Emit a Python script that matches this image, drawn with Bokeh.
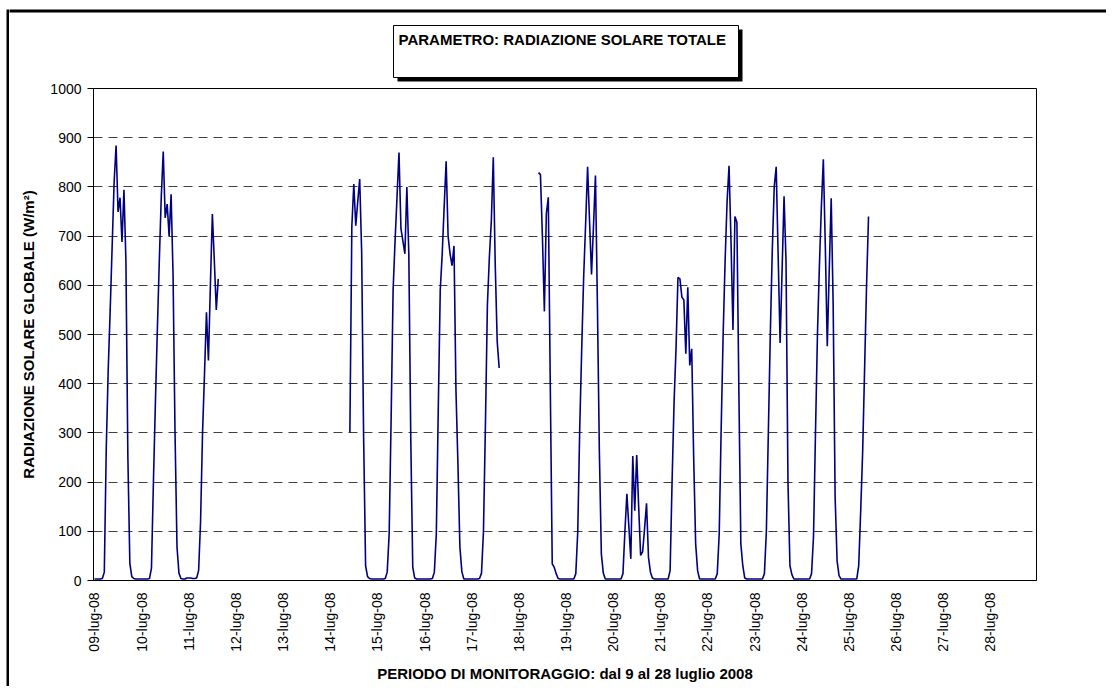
import math
import numpy as np
from bokeh.plotting import figure
from bokeh.layouts import column, row
from bokeh.models import Range1d, FixedTicker, SingleIntervalTicker, Spacer
from bokeh.core.properties import value
from bokeh.embed import file_html
from bokeh.resources import INLINE

# ---------------- data (hourly global solar radiation, W/m2) ----------------
dates = ["09-lug-08", "10-lug-08", "11-lug-08", "12-lug-08", "13-lug-08",
         "14-lug-08", "15-lug-08", "16-lug-08", "17-lug-08", "18-lug-08",
         "19-lug-08", "20-lug-08", "21-lug-08", "22-lug-08", "23-lug-08",
         "24-lug-08", "25-lug-08", "26-lug-08", "27-lug-08", "28-lug-08"]

day_09 = [3, 3, 3, 3, 4, 17, 270, 430, 550, 680, 810, 884,
          749, 778, 688, 794, 650, 250, 35, 8, 4, 3, 3, 3]
day_10 = [3, 3, 3, 3, 4, 25, 200, 360, 510, 650, 780, 872,
          737, 765, 700, 785, 620, 300, 68, 15, 4, 3, 3, 5]
day_11 = [5, 5, 4, 4, 5, 20, 120, 300, 420, 545, 447, 600,
          745, 650, 550, 613, None, None, None, None, None, None, None, None]
day_14 = [None, None, None, None, None, None, None, None, None, None, 301, 720,
          806, 721, 770, 816, 667, 290, 30, 8, 4, 3, 3, 3]
day_15 = [3, 3, 3, 3, 4, 17, 95, 330, 590, 690, 780, 870,
          715, 690, 664, 800, 664, 288, 27, 5, 3, 3, 3, 3]
day_16 = [3, 3, 3, 3, 4, 17, 95, 350, 590, 664, 760, 852,
          700, 664, 640, 680, 386, 237, 68, 18, 3, 3, 3, 3]
day_17 = [3, 3, 3, 3, 4, 15, 100, 318, 560, 657, 731, 860,
          640, 485, 432, None, None, None, None, None, None, None, None, None]
day_18 = [None, None, None, None, None, None, None, None, None, None, 829, 825,
          700, 547, 745, 779, 400, 34, 27, 14, 4, 3, 3, 3]
day_19 = [3, 3, 3, 3, 3, 14, 100, 310, 470, 617, 725, 841,
          730, 622, 720, 823, 560, 260, 54, 15, 3, 3, 3, 3]
day_20 = [3, 3, 3, 3, 3, 14, 100, 176, 110, 44, 253, 142,
          255, 150, 51, 58, 105, 157, 47, 17, 5, 3, 3, 3]
day_21 = [3, 3, 3, 3, 3, 20, 200, 360, 470, 616, 613, 576,
          570, 461, 596, 437, 471, 250, 75, 20, 3, 3, 3, 3]
day_22 = [3, 3, 3, 3, 3, 14, 95, 310, 500, 650, 770, 843,
          690, 509, 740, 728, 386, 75, 30, 5, 3, 3, 3, 3]
day_23 = [3, 3, 3, 3, 3, 14, 100, 300, 500, 670, 800, 841,
          660, 483, 630, 781, 650, 200, 30, 12, 3, 3, 3, 3]
day_24 = [3, 3, 3, 3, 3, 14, 90, 300, 500, 640, 760, 856,
          680, 476, 630, 777, 560, 170, 40, 10, 3, 3, 3, 3]
day_25 = [3, 3, 3, 3, 3, 30, 140, 260, 430, 600, 740, None,
          None, None, None, None, None, None, None, None, None, None, None, None]

days = [day_09, day_10, day_11, None, None, day_14, day_15, day_16, day_17,
        day_18, day_19, day_20, day_21, day_22, day_23, day_24, day_25,
        None, None, None]

title_text = "PARAMETRO: RADIAZIONE SOLARE TOTALE"
x_title = "PERIODO DI MONITORAGGIO: dal 9 al 28 luglio 2008"
y_title = "RADIAZIONE SOLARE GLOBALE (W/m²)"

hours = []
vals = []
for d, arr in enumerate(days):
    for k in range(24):
        hours.append(24 * d + k)
        v = None if arr is None else arr[k]
        vals.append(np.nan if v is None else float(v))

# ---------------- layout geometry (page pixels) ----------------
FONT = "Liberation Sans"
W, H = 1106, 686
BL, BW = 6, 3      # outer border: left offset and thickness
BT = 9             # outer border: top offset
TH = 82            # bottom of the title strip (page y)
X_IN = BL + BW     # left edge of inner content


def bare(fig, fill="white"):
    fig.outline_line_color = None
    fig.grid.visible = False
    fig.background_fill_color = fill
    fig.border_fill_color = fill
    fig.frame_align = False
    return fig


left_bar = bare(figure(width=BW, height=H - BT, output_backend="svg",
                       toolbar_location=None, x_axis_type=None, y_axis_type=None,
                       min_border=0, min_border_left=0, min_border_right=0,
                       min_border_top=0, min_border_bottom=0), fill="black")

# ---------------- title strip (page-pixel coordinates) ----------------
t = bare(figure(width=W - X_IN, height=TH - BT, output_backend="svg",
                toolbar_location=None,
                x_range=Range1d(X_IN, W), y_range=Range1d(TH, BT),
                x_axis_type=None, y_axis_type=None,
                min_border=0, min_border_left=0, min_border_right=0,
                min_border_top=0, min_border_bottom=0))
# top edge of the outer chart border
t.quad(left=[X_IN - 1], right=[W + 1], top=[BT - 1], bottom=[BT + BW],
       fill_color="black", line_color=None)
# title box with its shadow
t.quad(left=[397], right=[742], top=[29], bottom=[81],
       fill_color="black", line_color=None)
t.quad(left=[393], right=[738], top=[25], bottom=[77],
       fill_color="white", line_color="black", line_width=1)
t.text(x=[398], y=[30], text=[title_text], text_font=value(FONT),
       text_font_style="bold", text_font_size="15px", text_color="black",
       text_align="left", text_baseline="top")

# ---------------- main chart ----------------
ML, MR, MT, MB = 93 - X_IN, 70, 88 - TH, 106   # frame: x 93..1036, y 88..580
NH = 24 * len(dates)

p = figure(width=W - X_IN, height=H - TH, output_backend="svg", toolbar_location=None,
           x_range=Range1d(-0.5, NH - 0.5), y_range=Range1d(0, 1000),
           min_border_left=ML, min_border_right=MR, min_border_top=MT,
           min_border_bottom=MB)
p.frame_align = False
p.background_fill_color = "white"
p.border_fill_color = "white"
p.outline_line_color = "black"
p.outline_line_width = 1

p.line(hours, vals, line_color="#000080", line_width=1.6)

# x axis
p.xaxis.ticker = FixedTicker(ticks=[24 * i for i in range(len(dates))])
p.xaxis.major_label_overrides = {24 * i: lab for i, lab in enumerate(dates)}
p.xaxis.major_label_orientation = math.pi / 2
p.xaxis.major_tick_out = 0
p.xaxis.major_tick_in = 0
p.xaxis.minor_tick_out = 0
p.xaxis.minor_tick_in = 0
p.xaxis.major_label_standoff = 12
p.xaxis.major_label_text_font = FONT
p.xaxis.major_label_text_font_size = "14px"
p.xaxis.major_label_text_color = "black"
p.xaxis.axis_line_color = "black"
p.xaxis.axis_label = x_title
p.xaxis.axis_label_text_font = FONT
p.xaxis.axis_label_text_font_style = "bold"
p.xaxis.axis_label_text_font_size = "15px"
p.xaxis.axis_label_text_color = "black"
p.xaxis.axis_label_standoff = 10

# y axis
p.yaxis.ticker = SingleIntervalTicker(interval=100, num_minor_ticks=0)
p.yaxis.major_tick_out = 6
p.yaxis.major_tick_in = 0
p.yaxis.minor_tick_out = 0
p.yaxis.minor_tick_in = 0
p.yaxis.major_label_standoff = 6
p.yaxis.major_label_text_font = FONT
p.yaxis.major_label_text_font_size = "14px"
p.yaxis.major_label_text_color = "black"
p.yaxis.axis_line_color = "black"
p.yaxis.major_tick_line_color = "black"
p.yaxis.axis_label = y_title
p.yaxis.axis_label_text_font = FONT
p.yaxis.axis_label_text_font_style = "bold"
p.yaxis.axis_label_text_font_size = "15px"
p.yaxis.axis_label_text_color = "black"
p.yaxis.axis_label_standoff = 10

p.xgrid.visible = False
p.ygrid.grid_line_color = "#404040"
p.ygrid.grid_line_dash = "9 6"
p.ygrid.grid_line_width = 1

layout = column(
    Spacer(width=W, height=BT),
    row(Spacer(width=BL, height=H - BT), left_bar, column(t, p, spacing=0), spacing=0),
    spacing=0,
)

open("out.html", "w").write(file_html(layout, INLINE))
